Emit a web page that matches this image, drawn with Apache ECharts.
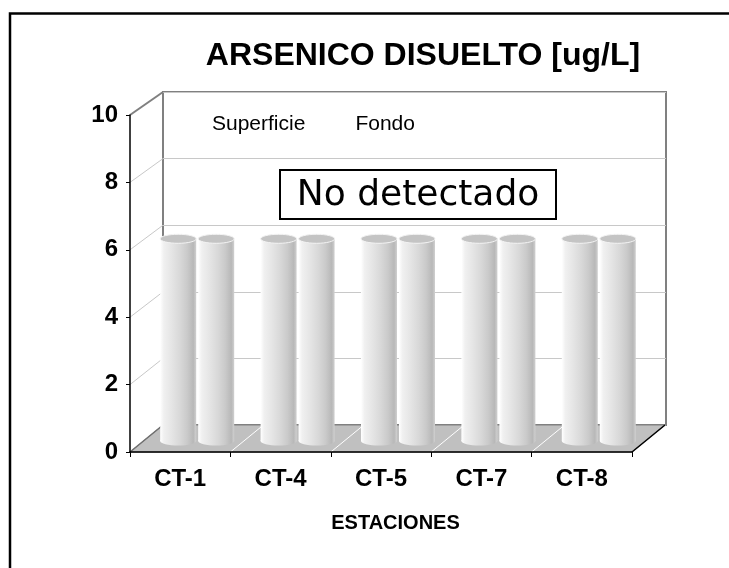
<!DOCTYPE html>
<html>
<head>
<meta charset="utf-8">
<script src="https://cdn.jsdelivr.net/npm/echarts@6/dist/echarts.min.js"></script>
<style>
html,body{margin:0;padding:0;background:#fff;}
#chart{width:729px;height:568px;}
</style>
</head>
<body>
<div id="chart"></div>
<script>
const categories = ['CT-1', 'CT-4', 'CT-5', 'CT-7', 'CT-8'];
const seriesNames = ['Superficie', 'Fondo'];
const superficie = [6, 6, 6, 6, 6];
const fondo = [6, 6, 6, 6, 6];
const yMin = 0;
const yMax = 10;
const yStep = 2;
const titleText = 'ARSENICO DISUELTO [ug/L]';
const xAxisName = 'ESTACIONES';
const noteText = 'No detectado';

const FONT = "'Liberation Sans', Arial, sans-serif";
const DX = 33, DYB = 27, DYT = 23;

function decoRender(params, api) {
  const cs = params.coordSys;
  const x0 = cs.x, y0 = cs.y, w = cs.width, h = cs.height;
  const yb = y0 + h;
  const backY = fy => fy - (DYT + (DYB - DYT) * (fy - y0) / h);
  const children = [];
  children.push({
    type: 'polygon',
    shape: { points: [[x0, yb], [x0 + w, yb], [x0 + w + DX, yb - DYB], [x0 + DX, yb - DYB]] },
    style: { fill: '#c0c0c0', stroke: '#808080', lineWidth: 1 }
  });
  const n = categories.length;
  for (let i = 1; i < n; i++) {
    const fx = x0 + w * i / n;
    children.push({ type: 'line', shape: { x1: fx, y1: yb, x2: fx + DX, y2: yb - DYB }, style: { stroke: '#ffffff', lineWidth: 1 } });
  }
  children.push({ type: 'line', shape: { x1: x0, y1: yb, x2: x0 + DX, y2: yb - DYB }, style: { stroke: '#707070', lineWidth: 1.5 } });
  children.push({ type: 'line', shape: { x1: x0 + w, y1: yb, x2: x0 + w + DX, y2: yb - DYB }, style: { stroke: '#000000', lineWidth: 1.5 } });
  for (let v = yMin + yStep; v <= yMax; v += yStep) {
    const fy = api.coord([0, v])[1];
    children.push({
      type: 'line',
      shape: { x1: x0, y1: fy, x2: x0 + DX, y2: backY(fy) },
      style: { stroke: v === yMax ? '#808080' : '#c8c8c8', lineWidth: v === yMax ? 2 : 1 }
    });
  }
  return { type: 'group', children: children };
}

function cylRender(offset) {
  return function (params, api) {
    const idx = api.value(0), val = api.value(1);
    const top = api.coord([idx, val]);
    const base = api.coord([idx, 0]);
    const cx = top[0] + offset;
    const r = 18, ry = 4.5;
    const grad = () => new echarts.graphic.LinearGradient(0, 0, 1, 0, [
      { offset: 0, color: '#ffffff' },
      { offset: 0.1, color: '#f0f0f0' },
      { offset: 0.3, color: '#e6e6e6' },
      { offset: 0.55, color: '#d8d8d8' },
      { offset: 0.75, color: '#cacaca' },
      { offset: 0.92, color: '#b8b8b8' },
      { offset: 1, color: '#d0d0d0' }
    ]);
    return {
      type: 'group',
      children: [
        { type: 'ellipse', shape: { cx: cx, cy: base[1], rx: r, ry: ry }, style: { fill: grad() } },
        { type: 'rect', shape: { x: cx - r, y: top[1], width: 2 * r, height: base[1] - top[1] }, style: { fill: grad() } },
        { type: 'ellipse', shape: { cx: cx, cy: top[1], rx: r, ry: ry }, style: { fill: '#c4c4c4', stroke: '#f4f4f4', lineWidth: 1 } }
      ]
    };
  };
}

const chart = echarts.init(document.getElementById('chart'), null, { renderer: 'canvas' });
const option = {
  backgroundColor: '#ffffff',
  animation: false,
  title: {
    text: titleText,
    left: 418,
    top: 35,
    textAlign: 'center',
    textStyle: { fontFamily: FONT, fontSize: 32, fontWeight: 'bold', color: '#000' }
  },
  legend: {
    data: seriesNames,
    left: 202,
    top: 109,
    itemWidth: 0,
    itemHeight: 0,
    itemGap: 45,
    selectedMode: false,
    textStyle: { fontFamily: FONT, fontSize: 21, color: '#000' }
  },
  grid: [
    { left: 130, right: 97, top: 115, bottom: 116 },
    { left: 163, right: 63, top: 92, bottom: 143, show: true, borderColor: '#808080', borderWidth: 2, backgroundColor: '#ffffff' },
    { left: 147, right: 80, top: 104, bottom: 127 }
  ],
  xAxis: [
    {
      gridIndex: 0, type: 'category', data: categories, z: 5,
      axisLine: { show: true, lineStyle: { color: '#000', width: 1.5 } },
      axisTick: { show: true, length: 5, lineStyle: { color: '#000' } },
      axisLabel: { margin: 15, fontFamily: FONT, fontSize: 24, fontWeight: 'bold', color: '#000' },
      name: xAxisName, nameLocation: 'middle', nameGap: 61,
      nameTextStyle: { fontFamily: FONT, fontSize: 20, fontWeight: 'bold', color: '#000', padding: [0, 0, 0, 29] },
      splitLine: { show: false }
    },
    { gridIndex: 1, type: 'category', data: categories, show: false },
    { gridIndex: 2, type: 'category', data: categories, show: false }
  ],
  yAxis: [
    {
      gridIndex: 0, type: 'value', min: yMin, max: yMax, interval: yStep, z: 5,
      axisLine: { show: true, lineStyle: { color: '#000', width: 1.5 } },
      axisTick: { show: true, length: 4, lineStyle: { color: '#000' } },
      axisLabel: { margin: 12, fontFamily: FONT, fontSize: 24, fontWeight: 'bold', color: '#000' },
      splitLine: { show: false }
    },
    {
      gridIndex: 1, type: 'value', min: yMin, max: yMax, interval: yStep,
      axisLine: { show: false }, axisTick: { show: false }, axisLabel: { show: false },
      splitLine: { show: true, lineStyle: { color: '#c8c8c8', width: 1 } }
    },
    {
      gridIndex: 2, type: 'value', min: yMin, max: yMax, interval: yStep, show: false,
      splitLine: { show: false }
    }
  ],
  series: [
    {
      name: 'deco', type: 'custom', xAxisIndex: 0, yAxisIndex: 0, z: 1, silent: true,
      renderItem: decoRender, data: [[0, 0]], encode: { x: 0, y: 1 }
    },
    {
      name: seriesNames[0], type: 'custom', xAxisIndex: 2, yAxisIndex: 2, z: 3,
      renderItem: cylRender(-19), data: superficie.map((v, i) => [i, v]), encode: { x: 0, y: 1 },
      itemStyle: { color: '#e0e0e0' }
    },
    {
      name: seriesNames[1], type: 'custom', xAxisIndex: 2, yAxisIndex: 2, z: 3,
      renderItem: cylRender(19), data: fondo.map((v, i) => [i, v]), encode: { x: 0, y: 1 },
      itemStyle: { color: '#e0e0e0' }
    }
  ],
  graphic: [
    {
      type: 'rect', z: 50,
      shape: { x: 280, y: 170, width: 276, height: 49 },
      style: { fill: '#ffffff', stroke: '#000', lineWidth: 2 }
    },
    {
      type: 'text', z: 51, x: 418, y: 196,
      style: { text: noteText, fontFamily: "'DejaVu Sans', sans-serif", fontSize: 36, fill: '#000', align: 'center', verticalAlign: 'middle' }
    },
    {
      type: 'rect', z: 100, silent: true,
      shape: { x: 10, y: 13.5, width: 800, height: 800 },
      style: { fill: null, stroke: '#000', lineWidth: 2.5 }
    }
  ]
};
chart.setOption(option);
</script>
</body>
</html>
